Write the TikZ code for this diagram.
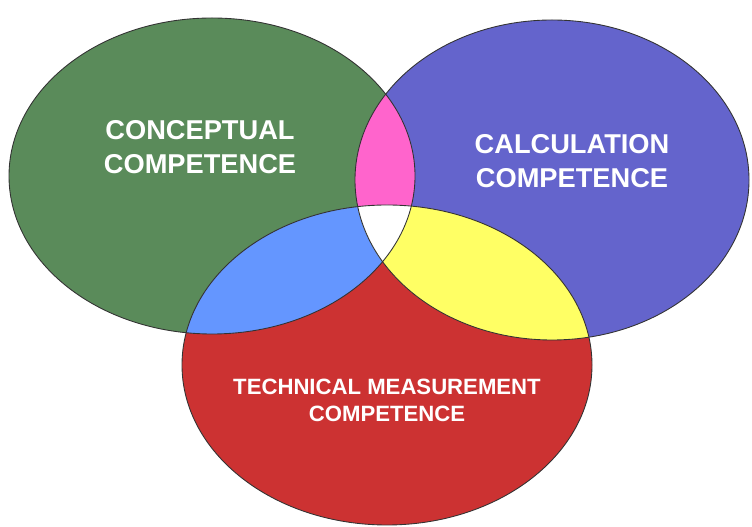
\documentclass[tikz,border=0pt]{standalone}
\usepackage{fontspec}
\setmainfont{Liberation Sans}
\usepackage{xcolor}
\usepackage{tikz}
\definecolor{concgreen}{RGB}{90,139,90}
\definecolor{calcblue}{RGB}{100,100,204}
\definecolor{techred}{RGB}{204,50,50}
\definecolor{lensmagenta}{RGB}{255,100,204}
\definecolor{lensblue}{RGB}{100,150,255}
\definecolor{lensyellow}{RGB}{255,255,100}
\tikzset{
  setline/.style={draw=black!80, line width=0.5pt},
  biglabel/.style={
    text=white, align=center, font=\fontsize{15.5}{19}\selectfont\bfseries
  },
  smalllabel/.style={
    text=white, align=center, font=\fontsize{12.6}{15.3}\selectfont\bfseries
  },
}
% the three competence sets
\def\conceptset{(4.24,7.02) ellipse [x radius=4.06cm, y radius=3.16cm]}
\def\calcset{(11.04,6.94) ellipse [x radius=3.94cm, y radius=3.2cm]}
\def\techset{(7.74,3.24) ellipse [x radius=4.1cm, y radius=3.2cm]}

\begin{document}
\begin{tikzpicture}
  \useasboundingbox (0,0) rectangle (15.04,10.54);

  % Set fills
  \fill[concgreen] \conceptset;
  \fill[calcblue] \calcset;
  \fill[techred] \techset;

  % Pairwise overlaps
  \begin{scope}
    \clip \conceptset;
    \fill[lensmagenta] \calcset;
    \fill[lensblue] \techset;
  \end{scope}
  \begin{scope}
    \clip \calcset;
    \fill[lensyellow] \techset;
  \end{scope}

  % Common centre
  \begin{scope}
    \clip \conceptset;
    \clip \calcset;
    \fill[white] \techset;
  \end{scope}

  % Outlines
  \draw[setline] \conceptset;
  \draw[setline] \calcset;
  \draw[setline] \techset;

  % Labels
  \node[biglabel] (concept) at (4.0,7.6) {CONCEPTUAL\\COMPETENCE};
  \node[biglabel] (calc) at (11.44,7.32) {CALCULATION\\COMPETENCE};
  \node[smalllabel] (tech) at (7.74,2.54) {TECHNICAL MEASUREMENT\\COMPETENCE};
\end{tikzpicture}
\end{document}
